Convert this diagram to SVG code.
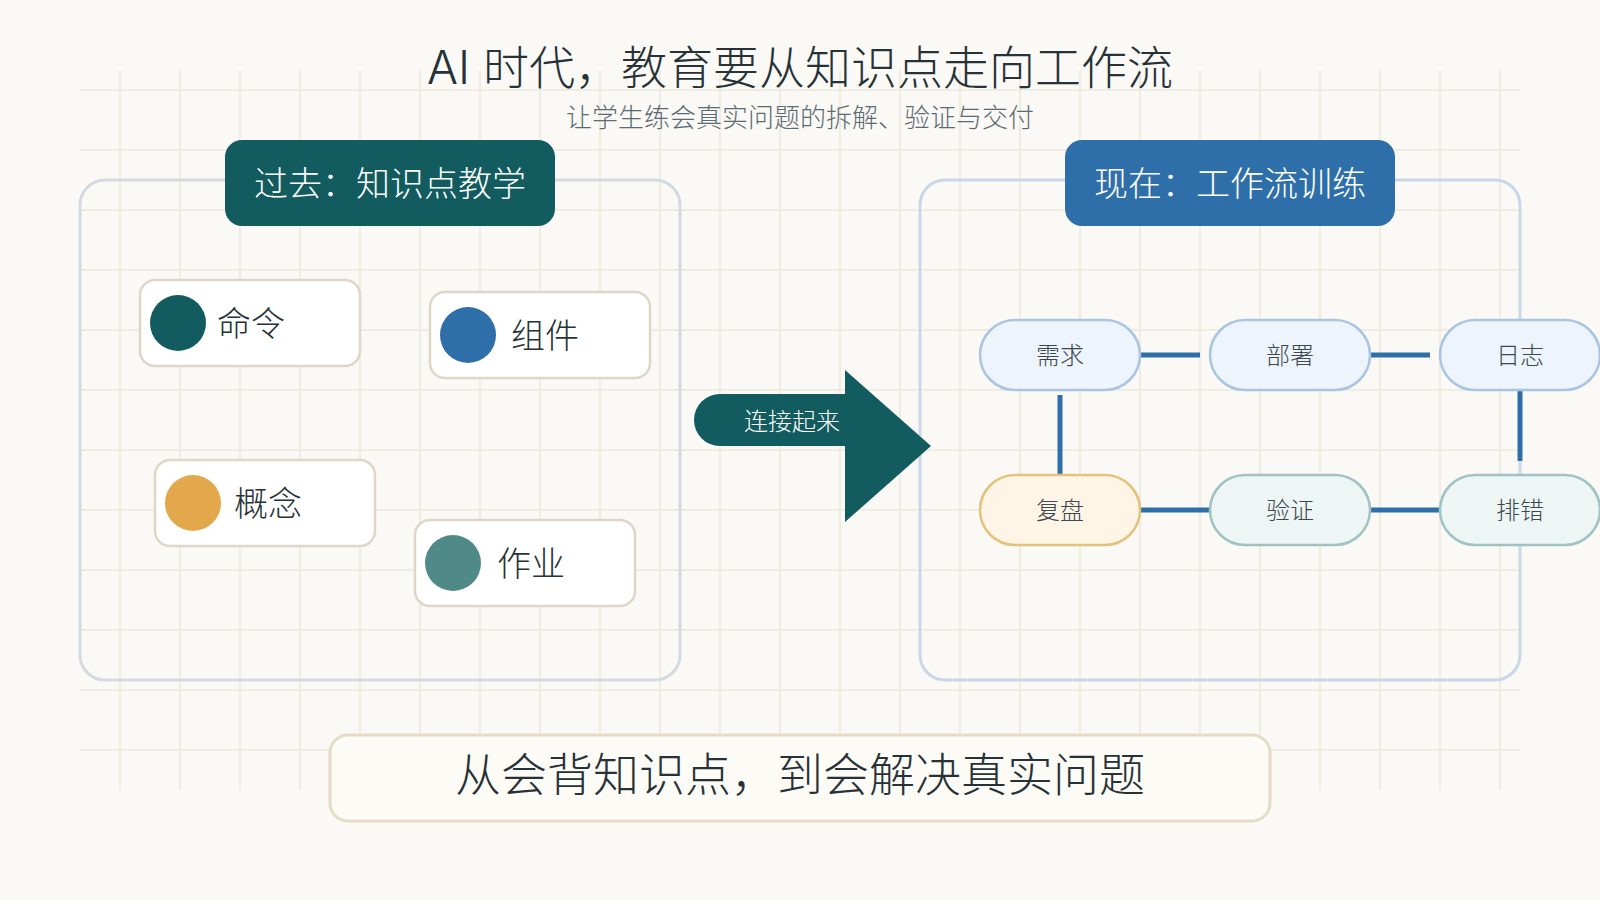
<svg xmlns="http://www.w3.org/2000/svg" width="1600" height="900" viewBox="0 0 1600 900">
  <style>
    text { font-family: Inter, "Noto Sans CJK SC", "Noto Sans", sans-serif; font-weight: 300; }
    .grid { stroke: #ebe7dc; stroke-width: 1.5; fill: none; }
    .card { fill: #ffffff; stroke: #ddd6c9; stroke-width: 2.5; }
    .cardtxt { font-size: 34px; fill: #263238; }
    .hdrtxt { font-size: 34px; fill: #ffffff; text-anchor: middle; }
    .pill { stroke-width: 2.5; }
    .blue { fill: #edf4fb; stroke: #a9c5e2; }
    .warm { fill: #fff5e6; stroke: #e3c27c; }
    .teal { fill: #edf6f4; stroke: #9fc3c3; }
    .pilltxt { font-size: 24px; fill: #3b4850; text-anchor: middle; }
    .conn { stroke: #2f6fa9; stroke-width: 5; fill: none; }
  </style>
  <rect width="1600" height="900" fill="#faf9f5"/>
  <g id="grid">
    <path class="grid" d="M120 70V790M180 70V790M240 70V790M300 70V790M360 70V790M420 70V790M480 70V790M540 70V790M600 70V790M660 70V790M720 70V790M780 70V790M840 70V790M900 70V790M960 70V790M1020 70V790M1080 70V790M1140 70V790M1200 70V790M1260 70V790M1320 70V790M1380 70V790M1440 70V790M1500 70V790"/>
    <path class="grid" d="M80 90H1520M80 150H1520M80 210H1520M80 270H1520M80 330H1520M80 390H1520M80 450H1520M80 510H1520M80 570H1520M80 630H1520M80 690H1520M80 750H1520"/>
  </g>
  <g id="title">
    <text x="800" y="84" font-size="46" fill="#263238" text-anchor="middle">AI 时代，教育要从知识点走向工作流</text>
    <text x="800" y="127" font-size="26" fill="#5d6a73" text-anchor="middle">让学生练会真实问题的拆解、验证与交付</text>
  </g>
  <g id="panel-past">
    <rect x="80" y="180" width="600" height="500" rx="25" fill="none" stroke="#d3dbe0" stroke-width="3"/>
    <rect x="225" y="140" width="330" height="86" rx="17" fill="#125b5f"/>
    <text class="hdrtxt" x="390" y="196">过去：知识点教学</text>
  </g>
  <g id="panel-now">
    <rect x="920" y="180" width="600" height="500" rx="25" fill="none" stroke="#c9d8e8" stroke-width="3"/>
    <rect x="1065" y="140" width="330" height="86" rx="17" fill="#2f6fa9"/>
    <text class="hdrtxt" x="1230" y="196">现在：工作流训练</text>
  </g>
  <g id="card-command">
    <rect class="card" x="140" y="280" width="220" height="86" rx="15"/>
    <circle cx="178" cy="323" r="28" fill="#125b5f"/>
    <text class="cardtxt" x="217" y="336">命令</text>
  </g>
  <g id="card-component">
    <rect class="card" x="430" y="292" width="220" height="86" rx="15"/>
    <circle cx="468" cy="335" r="28" fill="#2f6fa9"/>
    <text class="cardtxt" x="511" y="348">组件</text>
  </g>
  <g id="card-concept">
    <rect class="card" x="155" y="460" width="220" height="86" rx="15"/>
    <circle cx="193" cy="503" r="28" fill="#e2a84b"/>
    <text class="cardtxt" x="234" y="516">概念</text>
  </g>
  <g id="card-homework">
    <rect class="card" x="415" y="520" width="220" height="86" rx="15"/>
    <circle cx="453" cy="563" r="28" fill="#4f8a89"/>
    <text class="cardtxt" x="497" y="576">作业</text>
  </g>
  <g id="arrow-connect">
    <path d="M720 394H845V370L931 446L845 522V446H720A26 26 0 0 1 720 394Z" fill="#125b5f"/>
    <text x="792" y="430" font-size="24" fill="#ffffff" text-anchor="middle">连接起来</text>
  </g>
  <g id="connectors">
    <path class="conn" d="M1140 355H1200"/>
    <path class="conn" d="M1370 355H1430"/>
    <path class="conn" d="M1060 395V475"/>
    <path class="conn" d="M1520 390V461"/>
    <path class="conn" d="M1140 510H1210"/>
    <path class="conn" d="M1370 510H1440"/>
  </g>
  <g id="node-demand">
    <rect class="pill blue" x="980" y="320" width="160" height="70" rx="35"/>
    <text class="pilltxt" x="1060" y="364">需求</text>
  </g>
  <g id="node-deploy">
    <rect class="pill blue" x="1210" y="320" width="160" height="70" rx="35"/>
    <text class="pilltxt" x="1290" y="364">部署</text>
  </g>
  <g id="node-log">
    <rect class="pill blue" x="1440" y="320" width="160" height="70" rx="35"/>
    <text class="pilltxt" x="1520" y="364">日志</text>
  </g>
  <g id="node-review">
    <rect class="pill warm" x="980" y="475" width="160" height="70" rx="35"/>
    <text class="pilltxt" x="1060" y="519">复盘</text>
  </g>
  <g id="node-verify">
    <rect class="pill teal" x="1210" y="475" width="160" height="70" rx="35"/>
    <text class="pilltxt" x="1290" y="519">验证</text>
  </g>
  <g id="node-debug">
    <rect class="pill teal" x="1440" y="475" width="160" height="70" rx="35"/>
    <text class="pilltxt" x="1520" y="519">排错</text>
  </g>
  <g id="summary">
    <rect x="330" y="735" width="940" height="86" rx="18" fill="#fdfbf5" stroke="#e5dcc8" stroke-width="3"/>
    <text x="800" y="791" font-size="46" fill="#263238" text-anchor="middle">从会背知识点，到会解决真实问题</text>
  </g>
</svg>
